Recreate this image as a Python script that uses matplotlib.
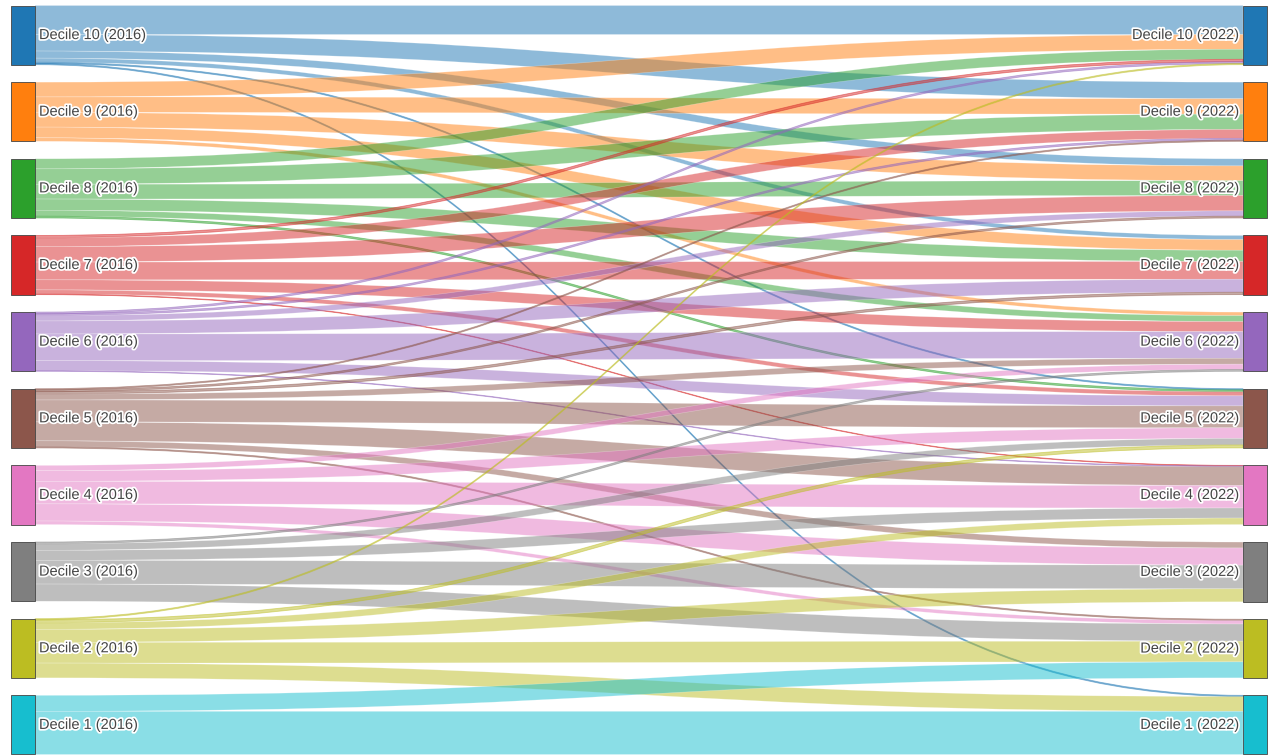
import numpy as np
import matplotlib.pyplot as plt
from matplotlib.path import Path
from matplotlib.patches import PathPatch, Rectangle
import matplotlib.patheffects as pe
from matplotlib.colors import to_rgba

# Nodes (top to bottom)
deciles = [10, 9, 8, 7, 6, 5, 4, 3, 2, 1]
src_labels = [f"Decile {d} (2016)" for d in deciles]
tgt_labels = [f"Decile {d} (2022)" for d in deciles]
node_colors = ['#1f77b4', '#ff7f0e', '#2ca02c', '#d62728', '#9467bd',
               '#8c564b', '#e377c2', '#7f7f7f', '#bcbd22', '#17becf']

# Share (%) of each 2016 decile landing in each 2022 decile, columns D10 .. D1
from_d10 = [49, 28, 12, 7, 0, 2, 0, 0, 0, 2]
from_d9 = [25, 26, 25, 18, 6, 0, 0, 0, 0, 0]
from_d8 = [17, 26, 25, 19, 10, 3, 0, 0, 0, 0]
from_d7 = [4, 15, 26, 30, 17, 7, 1, 0, 0, 0]
from_d6 = [3, 3, 9, 22, 45, 17, 1, 0, 0, 0]
from_d5 = [0, 2, 3, 4, 10, 37, 32, 10, 2, 0]
from_d4 = [0, 0, 0, 0, 9, 18, 38, 29, 6, 0]
from_d3 = [0, 0, 0, 0, 3, 11, 17, 40, 29, 0]
from_d2 = [2, 0, 0, 0, 0, 5, 11, 22, 35, 25]
from_d1 = [0, 0, 0, 0, 0, 0, 0, 0, 27, 73]

flows = np.array([from_d10, from_d9, from_d8, from_d7, from_d6,
                  from_d5, from_d4, from_d3, from_d2, from_d1], dtype=float)

# ----------------------------------------------------------
W, H = 1275, 756
TOP, BOTTOM, PAD = 5.5, 754.5, 17.5
NODE_W = 24
LEFT_X = 11
RIGHT_X = 1243

fig = plt.figure(figsize=(W / 100, H / 100), dpi=100)
ax = fig.add_axes([0, 0, 1, 1])
ax.set_xlim(0, W)
ax.set_ylim(H, 0)
ax.axis('off')

src_tot = flows.sum(axis=1)
tgt_tot = flows.sum(axis=0)
n = len(deciles)
scale = min((BOTTOM - TOP - PAD * (n - 1)) / src_tot.sum(),
            (BOTTOM - TOP - PAD * (n - 1)) / tgt_tot.sum())


def node_tops(totals):
    ys, y = [], TOP
    for t in totals:
        ys.append(y)
        y += t * scale + PAD
    return np.array(ys)


src_y = node_tops(src_tot)
tgt_y = node_tops(tgt_tot)

# link offsets: at source sorted by target position, at target by source position
src_off = src_y.copy()
tgt_off = tgt_y.copy()
x0, x1 = LEFT_X + NODE_W, RIGHT_X
xm = (x0 + x1) / 2
for i in range(n):
    for j in range(n):
        v = flows[i, j]
        if v <= 0:
            continue
        h = v * scale
        ys0, ys1 = src_off[i], src_off[i] + h
        yt0, yt1 = tgt_off[j], tgt_off[j] + h
        src_off[i] += h
        tgt_off[j] += h
        verts = [(x0, ys0), (xm, ys0), (xm, yt0), (x1, yt0),
                 (x1, yt1), (xm, yt1), (xm, ys1), (x0, ys1), (x0, ys0)]
        codes = [Path.MOVETO, Path.CURVE4, Path.CURVE4, Path.CURVE4,
                 Path.LINETO, Path.CURVE4, Path.CURVE4, Path.CURVE4, Path.CLOSEPOLY]
        c = to_rgba(node_colors[i], 0.5)
        thin = h < 3
        ax.add_patch(PathPatch(Path(verts, codes), fc=c,
                               ec=to_rgba(node_colors[i], 0.5) if thin else (1, 1, 1, 0.35),
                               lw=0.6 if thin else 0.4, zorder=1))

# Nodes and labels
halo = [pe.withStroke(linewidth=2.5, foreground='white')]
for k in range(n):
    ax.add_patch(Rectangle((LEFT_X, src_y[k]), NODE_W, src_tot[k] * scale,
                           fc=node_colors[k], ec='#444444', lw=0.6, zorder=2))
    ax.add_patch(Rectangle((RIGHT_X, tgt_y[k]), NODE_W, tgt_tot[k] * scale,
                           fc=node_colors[k], ec='#444444', lw=0.6, zorder=2))
    ax.text(LEFT_X + NODE_W + 4, src_y[k] + src_tot[k] * scale / 2, src_labels[k],
            ha='left', va='center', fontsize=10.5, color='#444444',
            family=['Liberation Sans', 'DejaVu Sans'], path_effects=halo, zorder=3)
    ax.text(RIGHT_X - 3, tgt_y[k] + tgt_tot[k] * scale / 2, tgt_labels[k],
            ha='right', va='center', fontsize=10.5, color='#444444',
            family=['Liberation Sans', 'DejaVu Sans'], path_effects=halo, zorder=3)

fig.savefig('out.png', dpi=100, facecolor='white')
